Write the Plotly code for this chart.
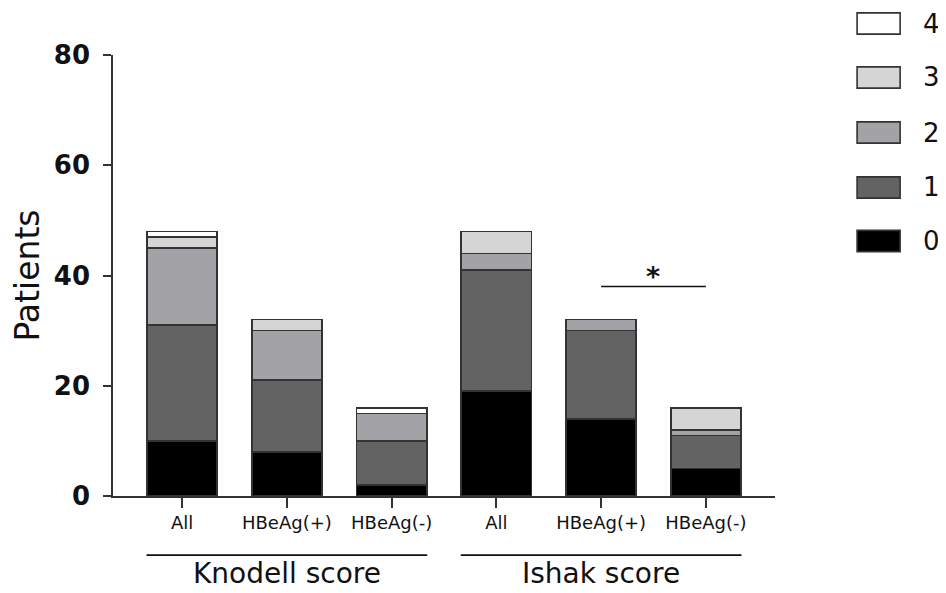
import plotly.graph_objects as go

# ---- data ----
categories = ["All", "HBeAg(+)", "HBeAg(-)", "All", "HBeAg(+)", "HBeAg(-)"]
groups = ["Knodell score", "Ishak score"]
group_members = [[0, 1, 2], [3, 4, 5]]
stage_names = ["0", "1", "2", "3", "4"]
stage0 = [10, 8, 2, 19, 14, 5]
stage1 = [21, 13, 8, 22, 16, 6]
stage2 = [14, 9, 5, 3, 2, 1]
stage3 = [2, 2, 0, 4, 0, 4]
stage4 = [1, 0, 1, 0, 0, 0]
series = [stage0, stage1, stage2, stage3, stage4]
colors = ["#000000", "#636363", "#a3a2a7", "#d5d5d5", "#ffffff"]
y_ticks = [0, 20, 40, 60, 80]
sig_pair = [4, 5]
sig_level = 38
sig_label = "*"

x = list(range(len(categories)))
LINE = "#333333"
TXT = "#111111"
FONT = "DejaVu Sans, Liberation Sans, Arial, sans-serif"

fig = go.Figure()
for name, vals, col in zip(stage_names, series, colors):
    fig.add_trace(go.Bar(
        x=x, y=vals, name=name, width=0.67,
        marker=dict(color=col, line=dict(color=LINE, width=1.6)),
        showlegend=False,
    ))

shapes = []
annotations = []

# group lines and labels under the axis
for g, members in zip(groups, group_members):
    c = sum(members) / len(members)
    shapes.append(dict(type="line", xref="x", yref="paper",
                       x0=c - 1.34, x1=c + 1.34, y0=-0.134, y1=-0.134,
                       line=dict(color=TXT, width=1.6)))
    annotations.append(dict(text=g, xref="x", yref="paper", x=c, y=-0.176,
                            showarrow=False, yanchor="middle",
                            font=dict(size=28, color=TXT, family=FONT)))

# significance bar
shapes.append(dict(type="line", xref="x", yref="y",
                   x0=sig_pair[0], x1=sig_pair[1], y0=sig_level, y1=sig_level,
                   line=dict(color=TXT, width=1.6)))
annotations.append(dict(text="<b>" + sig_label + "</b>", xref="x", yref="y",
                        x=sum(sig_pair) / 2, y=sig_level - 1.4,
                        showarrow=False, yanchor="bottom",
                        font=dict(size=27, color=TXT, family=FONT)))

# custom legend (top to bottom: 4..0)
legend_y = [(496 - v) / 441 for v in [23.5, 77.5, 132.5, 187.5, 241]]
for i, yc in zip(range(len(stage_names) - 1, -1, -1), legend_y):
    shapes.append(dict(type="rect", xref="paper", yref="paper",
                       x0=1.124, x1=1.189, y0=yc - 0.024, y1=yc + 0.024,
                       fillcolor=colors[i], line=dict(color=LINE, width=1.6)))
    annotations.append(dict(text=stage_names[i], xref="paper", yref="paper",
                            x=1.221, y=yc, xanchor="left", yanchor="middle",
                            showarrow=False,
                            font=dict(size=26, color=TXT, family=FONT)))

# page body has an 8px margin: shrink figure so plot area lands at the same pixels
fig.update_layout(
    barmode="stack",
    width=938, height=585,
    margin=dict(l=105, r=171, t=47, b=97, autoexpand=False),
    plot_bgcolor="white", paper_bgcolor="white",
    font=dict(family=FONT, color=TXT),
    shapes=shapes, annotations=annotations,
    xaxis=dict(range=[-0.66, 5.66], tickvals=x, ticktext=categories,
               automargin=False,
               showgrid=False, zeroline=False, showline=True,
               linecolor=LINE, linewidth=1.6,
               ticks="outside", ticklen=10, tickwidth=1.6, tickcolor=LINE,
               tickfont=dict(size=18, color=TXT, family=FONT)),
    yaxis=dict(range=[0, 80], tickvals=y_ticks,
               ticktext=["<b>%d</b>" % v for v in y_ticks],
               automargin=False,
               showgrid=False, zeroline=False, showline=True,
               linecolor=LINE, linewidth=1.6,
               ticks="outside", ticklen=8, tickwidth=1.6, tickcolor=LINE,
               ticklabelstandoff=8,
               tickfont=dict(size=26, color=TXT, family=FONT),
               title=dict(text="Patients", standoff=17,
                          font=dict(size=33, color=TXT, family=FONT))),
)

fig.write_html("out.html")
